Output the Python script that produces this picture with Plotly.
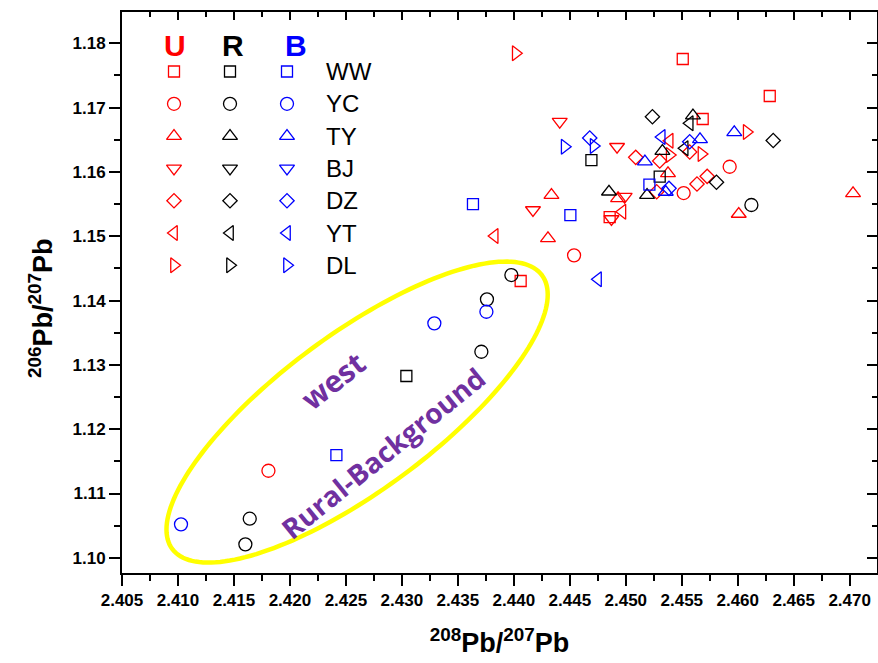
import numpy as np
import plotly.graph_objects as go

# ---------------- data (208Pb/207Pb , 206Pb/207Pb) ----------------
sites = ["WW", "YC", "TY", "BJ", "DZ", "YT", "DL"]
groups = ["U", "R", "B"]

# U (urban) - red
u_ww_x = [2.45509, 2.46286, 2.45687, 2.44856, 2.44061]
u_ww_y = [1.17756, 1.17181, 1.16823, 1.15299, 1.14304]
u_yc_x = [2.44538, 2.45928, 2.45517, 2.41808]
u_yc_y = [1.14703, 1.16081, 1.15672, 1.11354]
u_ty_x = [2.44336, 2.44305, 2.47030, 2.45377, 2.44931, 2.46009]
u_ty_y = [1.15641, 1.14968, 1.15668, 1.15979, 1.15590, 1.15346]
u_bj_x = [2.44410, 2.44922, 2.44171, 2.44990, 2.44872]
u_bj_y = [1.16781, 1.16392, 1.15408, 1.15615, 1.15268]
u_dz_x = [2.45089, 2.45303, 2.45636, 2.45727, 2.45276, 2.45571]
u_dz_y = [1.16227, 1.16170, 1.15812, 1.15932, 1.15692, 1.16310]
u_yt_x = [2.43829, 2.45392, 2.44970]
u_yt_y = [1.15004, 1.16485, 1.15381]
u_dl_x = [2.44017, 2.46080, 2.45392, 2.45676]
u_dl_y = [1.17844, 1.16621, 1.16263, 1.16279]

# R (rural) - black
r_ww_x = [2.44693, 2.45303, 2.43040]
r_ww_y = [1.16185, 1.15926, 1.12827]
r_yc_x = [2.43978, 2.43760, 2.43710, 2.41641, 2.41602, 2.46122]
r_yc_y = [1.14397, 1.14019, 1.13204, 1.10608, 1.10210, 1.15486]
r_ty_x = [2.44850, 2.45190, 2.45327, 2.45600]
r_ty_y = [1.15692, 1.15641, 1.16325, 1.16877]
r_bj_x = []
r_bj_y = []
r_dz_x = [2.45238, 2.46317, 2.45810]
r_dz_y = [1.16859, 1.16489, 1.15840]
r_yt_x = [2.45571, 2.45526]
r_yt_y = [1.16756, 1.16367]
r_dl_x = []
r_dl_y = []

# B (background) - blue
b_ww_x = [2.43635, 2.44505, 2.45211, 2.42415]
b_ww_y = [1.15501, 1.15330, 1.15804, 1.11598]
b_yc_x = [2.43755, 2.43290, 2.41027]
b_yc_y = [1.13826, 1.13646, 1.10521]
b_ty_x = [2.45171, 2.45969, 2.45663, 2.45357]
b_ty_y = [1.16162, 1.16616, 1.16507, 1.15688]
b_bj_x = []
b_bj_y = []
b_dz_x = [2.44678, 2.45571, 2.45386]
b_dz_y = [1.16527, 1.16470, 1.15745]
b_yt_x = [2.44752, 2.45321]
b_yt_y = [1.14330, 1.16543]
b_dl_x = [2.44454, 2.44713]
b_dl_y = [1.16392, 1.16403]

data = {
    "U": {"WW": (u_ww_x, u_ww_y), "YC": (u_yc_x, u_yc_y), "TY": (u_ty_x, u_ty_y),
          "BJ": (u_bj_x, u_bj_y), "DZ": (u_dz_x, u_dz_y), "YT": (u_yt_x, u_yt_y),
          "DL": (u_dl_x, u_dl_y)},
    "R": {"WW": (r_ww_x, r_ww_y), "YC": (r_yc_x, r_yc_y), "TY": (r_ty_x, r_ty_y),
          "BJ": (r_bj_x, r_bj_y), "DZ": (r_dz_x, r_dz_y), "YT": (r_yt_x, r_yt_y),
          "DL": (r_dl_x, r_dl_y)},
    "B": {"WW": (b_ww_x, b_ww_y), "YC": (b_yc_x, b_yc_y), "TY": (b_ty_x, b_ty_y),
          "BJ": (b_bj_x, b_bj_y), "DZ": (b_dz_x, b_dz_y), "YT": (b_yt_x, b_yt_y),
          "DL": (b_dl_x, b_dl_y)},
}

x_range = [2.405, 2.47244]
y_range = [1.09764, 1.18487]
x_dtick = 0.005
y_dtick = 0.01

# ---------------- styles ----------------
W, H = 878, 663
ML, MR, MT, MB = 122, 1, 12, 90
PW, PH = W - ML - MR, H - MT - MB

colors = {"U": "#FF0000", "R": "#000000", "B": "#0000FF"}
symbols = {"WW": "square-open", "YC": "circle-open", "TY": "triangle-up-open",
           "BJ": "triangle-down-open", "DZ": "diamond-open", "YT": "triangle-left-open",
           "DL": "triangle-right-open"}
sizes = {"WW": 11, "YC": 13, "TY": 13, "BJ": 13, "DZ": 11, "YT": 13, "DL": 13}

FONT = "Liberation Sans, Arial, sans-serif"
PURPLE = "#7030A0"

fig = go.Figure()

for g in groups:
    for s in sites:
        xs, ys = data[g][s]
        if not xs:
            continue
        fig.add_trace(go.Scatter(
            x=xs, y=ys, mode="markers", showlegend=False, name=f"{g}-{s}",
            marker=dict(symbol=symbols[s], size=sizes[s], color=colors[g],
                        line=dict(width=1.3, color=colors[g])),
        ))

# ---------------- custom legend (grid of markers) on a hidden [0,1] axis ----------------
def fx(px):
    return (px - ML) / PW

def fy(py):
    return (MT + PH - py) / PH

leg_cols_px = [174, 230, 287]
leg_row0_px, leg_step_px = 71.5, 32.3
for gi, g in enumerate(groups):
    for si, s in enumerate(sites):
        fig.add_trace(go.Scatter(
            x=[fx(leg_cols_px[gi])], y=[fy(leg_row0_px + si * leg_step_px)],
            xaxis="x3", yaxis="y3", mode="markers", showlegend=False, hoverinfo="skip",
            marker=dict(symbol=symbols[s], size=sizes[s], color=colors[g],
                        line=dict(width=1.3, color=colors[g])),
        ))

annotations = []
head_px = [175, 233, 296]
for gi, g in enumerate(groups):
    annotations.append(dict(xref="paper", yref="paper", x=fx(head_px[gi]), y=fy(45),
                            text=f"<b>{g}</b>", showarrow=False, xanchor="center", yanchor="middle",
                            font=dict(family=FONT, size=30, color=colors[g])))
for si, s in enumerate(sites):
    annotations.append(dict(xref="paper", yref="paper", x=fx(324), y=fy(leg_row0_px + si * leg_step_px),
                            text=s, showarrow=False, xanchor="left", yanchor="middle",
                            font=dict(family=FONT, size=24, color="black")))

# y-axis title as a rotated annotation (slightly below the plot centre, as in the reference)
annotations.append(dict(xref="paper", yref="paper", x=fx(41), y=fy(308),
                        text="<b><sup>206</sup>Pb/<sup>207</sup>Pb</b>", showarrow=False,
                        textangle=-90, xanchor="center", yanchor="middle",
                        font=dict(family=FONT, size=27, color="black")))

# ---------------- ellipse + labels ----------------
sx = PW / (x_range[1] - x_range[0])  # px per unit
sy = PH / (y_range[1] - y_range[0])
ell_cx, ell_cy = 2.42600, 1.12266
ell_a, ell_b, ell_ang = 230, 78, np.deg2rad(36.5)
t = np.linspace(0, 2 * np.pi, 181)
ux, uy = np.cos(ell_ang), np.sin(ell_ang)
vx, vy = -np.sin(ell_ang), np.cos(ell_ang)
ex = ell_cx + (ell_a * np.cos(t) * ux + ell_b * np.sin(t) * vx) / sx
ey = ell_cy + (ell_a * np.cos(t) * uy + ell_b * np.sin(t) * vy) / sy
path = "M " + " L ".join(f"{a:.6f},{b:.6f}" for a, b in zip(ex, ey)) + " Z"
shapes = [dict(type="path", xref="x", yref="y", path=path,
               line=dict(color="#FFFF00", width=4.5), layer="below")]

annotations.append(dict(xref="x", yref="y", x=2.42382, y=1.12764, text="<b>west</b>",
                        showarrow=False, textangle=-38,
                        font=dict(family="Open Sans", size=30, color=PURPLE)))
annotations.append(dict(xref="x", yref="y", x=2.42829, y=1.11630, text="<b>Rural-Background</b>",
                        showarrow=False, textangle=-39,
                        font=dict(family="Open Sans", size=28, color=PURPLE)))

# dummy trace for the mirror axes
fig.add_trace(go.Scatter(x=[None], y=[None], xaxis="x2", yaxis="y2", showlegend=False))

tickfont = dict(family=FONT, size=17, color="black", weight="bold")
common = dict(showgrid=False, zeroline=False, showline=True, linecolor="black", linewidth=2)

fig.update_layout(
    width=W, height=H,
    margin=dict(l=ML, r=MR, t=MT, b=MB, pad=0),
    paper_bgcolor="white", plot_bgcolor="white",
    showlegend=False,
    xaxis=dict(range=x_range, dtick=x_dtick, tick0=2.405, tickformat=".3f",
               ticks="outside", ticklen=11, tickwidth=2, tickcolor="black",
               minor=dict(dtick=x_dtick / 2, ticks="outside", ticklen=6, tickwidth=2, tickcolor="black"),
               tickfont=tickfont,
               title=dict(text="<sup>208</sup>Pb/<sup>207</sup>Pb", standoff=24,
                          font=dict(family=FONT, size=27, color="black", weight="bold")),
               **common),
    yaxis=dict(range=y_range, dtick=y_dtick, tick0=1.10, tickformat=".2f",
               ticks="outside", ticklen=11, tickwidth=2, tickcolor="black",
               minor=dict(dtick=y_dtick / 2, ticks="outside", ticklen=6, tickwidth=2, tickcolor="black"),
               tickfont=tickfont,
               **common),
    xaxis2=dict(range=x_range, dtick=x_dtick, tick0=2.405, overlaying="x", side="top", anchor="y2",
                ticks="inside", ticklen=8, tickwidth=2, tickcolor="black", showticklabels=False,
                minor=dict(dtick=x_dtick / 2, ticks="inside", ticklen=5, tickwidth=2, tickcolor="black"),
                **common),
    yaxis2=dict(range=y_range, dtick=y_dtick, tick0=1.10, overlaying="y", side="right", anchor="x2",
                ticks="inside", ticklen=10, tickwidth=2, tickcolor="black", showticklabels=False,
                minor=dict(dtick=y_dtick / 2, ticks="inside", ticklen=5, tickwidth=2, tickcolor="black"),
                **common),
    xaxis3=dict(range=[0, 1], overlaying="x", anchor="y3", visible=False),
    yaxis3=dict(range=[0, 1], overlaying="y", anchor="x3", visible=False),
    shapes=shapes,
    annotations=annotations,
)

fig.write_html("out.html")
